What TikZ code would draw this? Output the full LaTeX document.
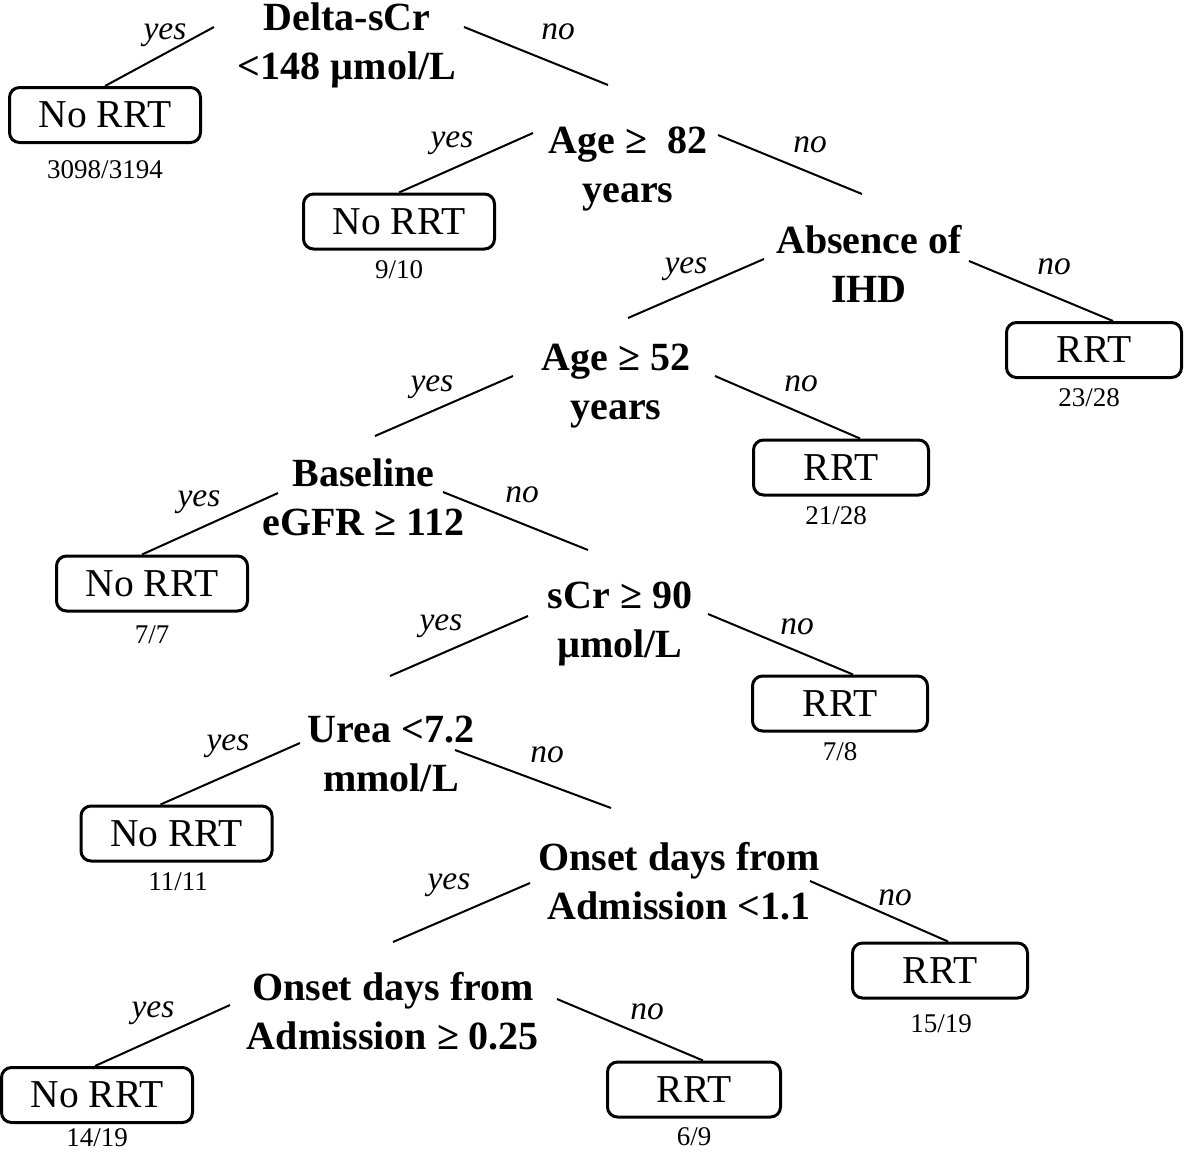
\documentclass[tikz,border=0pt]{standalone}
\usepackage{fontspec}
\setmainfont{Liberation Serif}
\usetikzlibrary{calc}
\begin{document}
\begin{tikzpicture}[x=1pt,y=-1pt,
  cond/.style={font=\fontsize{40}{49}\selectfont\bfseries, align=center, inner sep=0pt},
  leaf/.style={draw, line width=3pt, rounded corners=10pt, font=\fontsize{39.5}{48}\selectfont, minimum height=55pt, inner sep=0pt},
  nobox/.style={leaf, minimum width=191pt},
  rbox/.style={leaf, minimum width=175pt},
  cnt/.style={font=\fontsize{27}{30}\selectfont, inner sep=0pt},
  lab/.style={font=\fontsize{33.5}{36}\selectfont\itshape, inner sep=0pt},
  edge/.style={line width=2pt}]
\useasboundingbox (0,0) rectangle (1185,1151);

% decision nodes
\node[cond] (A) at (347,45) {\strut Delta-sCr\\\strut <148 µmol/L};
\node[cond] (B) at (628,168) {\strut Age ≥\ \ 82\\\strut years};
\node[cond] (C) at (869,268) {\strut Absence of\\\strut IHD};
\node[cond] (D) at (616,385.5) {\strut Age ≥ 52\\\strut years};
\node[cond] (E) at (363.5,501) {\strut Baseline\\\strut eGFR ≥ 112};
\node[cond] (F) at (620,623.5) {\strut sCr ≥ 90\\\strut µmol/L};
\node[cond] (G) at (391,757) {\strut Urea <7.2\\\strut mmol/L};
\node[cond] (H) at (679,885) {\strut Onset days from\\\strut Admission <1.1};
\node[cond] (I) at (393,1015) {\strut Onset days from\\\strut Admission ≥ 0.25};

% leaves
\node[nobox] (L1) at (105,115) {No RRT};
\node[nobox] (L2) at (399,221.5) {No RRT};
\node[rbox] (L3) at (1094,350) {RRT};
\node[rbox] (L4) at (841,467.5) {RRT};
\node[nobox] (L5) at (152,583.5) {No RRT};
\node[rbox] (L6) at (840,703.5) {RRT};
\node[nobox] (L7) at (176.5,833.5) {No RRT};
\node[rbox] (L8) at (940,970.5) {RRT};
\node[nobox] (L9) at (97,1095) {No RRT};
\node[rbox, minimum width=173pt] (L10) at (694,1089.5) {RRT};

% counts
\node[cnt] (c1) at (105,170) {3098/3194};
\node[cnt] (c2) at (399,270) {9/10};
\node[cnt] (c3) at (1089,398) {23/28};
\node[cnt] (c4) at (836,516) {21/28};
\node[cnt] (c5) at (152,635) {7/7};
\node[cnt] (c6) at (840,752) {7/8};
\node[cnt] (c7) at (178,882) {11/11};
\node[cnt] (c8) at (941,1024) {15/19};
\node[cnt] (c9) at (97,1137.5) {14/19};
\node[cnt] (c10) at (694,1137) {6/9};

% edges
\draw[edge] ($(A)+(-133,-18)$) -- (L1.north);
\draw[edge] ($(A)+(117,-18)$) -- ($(B)+(-20,-83)$);
\draw[edge] ($(B)+(-95,-35)$) -- (L2.north);
\draw[edge] ($(B)+(90,-33)$) -- ($(C)+(-7,-74)$);
\draw[edge] ($(C)+(-105,-9)$) -- ($(D)+(12,-67.5)$);
\draw[edge] ($(C)+(100,-7)$) -- ($(L3.north)+(19,0)$);
\draw[edge] ($(D)+(-103,-9.5)$) -- ($(E)+(11.5,-65)$);
\draw[edge] ($(D)+(99,-9.5)$) -- ($(L4.north)+(19,0)$);
\draw[edge] ($(E)+(-85.5,-8)$) -- ($(L5.north)+(-10,0)$);
\draw[edge] ($(E)+(79.5,-9)$) -- ($(F)+(-32,-73.5)$);
\draw[edge] ($(F)+(-92,-7.5)$) -- ($(G)+(-1,-81)$);
\draw[edge] ($(F)+(88,-9.5)$) -- ($(L6.north)+(13,0)$);
\draw[edge] ($(G)+(-91,-14)$) -- ($(L7.north)+(-16,0)$);
\draw[edge] ($(G)+(64,-7)$) -- ($(H)+(-68,-77)$);
\draw[edge] ($(H)+(-149,-2)$) -- ($(I)+(0,-73)$);
\draw[edge] ($(H)+(131,-4)$) -- ($(L8.north)+(8,0)$);
\draw[edge] ($(I)+(-163,-10)$) -- ($(L9.north)+(-2,0)$);
\draw[edge] ($(I)+(164,-16)$) -- ($(L10.north)+(9,0)$);

% branch labels
\node[lab] (ya) at (165,35) {yes};
\node[lab] (na) at (558,32) {no};
\node[lab] (yb) at (452,143) {yes};
\node[lab] (nb) at (810,145) {no};
\node[lab] (yc) at (686,269) {yes};
\node[lab] (nc) at (1054,267) {no};
\node[lab] (yd) at (432,387) {yes};
\node[lab] (nd) at (801,384) {no};
\node[lab] (ye) at (199,502) {yes};
\node[lab] (ne) at (522,495) {no};
\node[lab] (yf) at (441,626) {yes};
\node[lab] (nf) at (797,627) {no};
\node[lab] (yg) at (228,746) {yes};
\node[lab] (ng) at (547,755) {no};
\node[lab] (yh) at (449,885) {yes};
\node[lab] (nh) at (895,898) {no};
\node[lab] (yi) at (153,1013) {yes};
\node[lab] (ni) at (647,1012) {no};
\end{tikzpicture}
\end{document}
